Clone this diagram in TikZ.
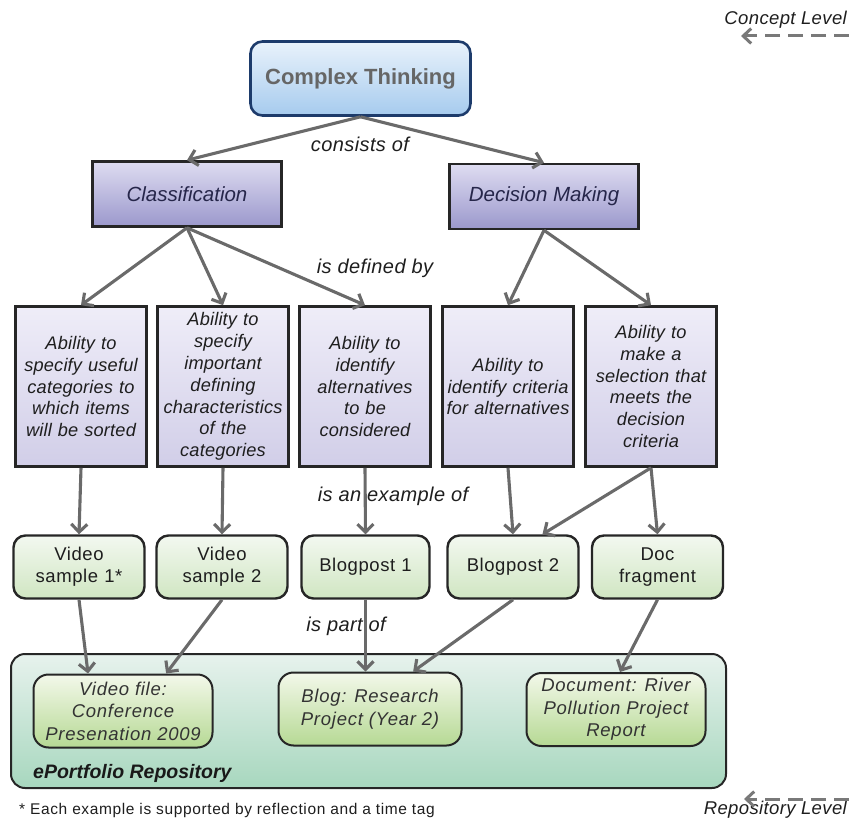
\documentclass[tikz,border=0pt]{standalone}
\usepackage{fontspec}
\setmainfont{Liberation Sans}
\newfontfamily\narrowsans[LetterSpace=1]{Liberation Sans}
\newfontfamily\tightsans[LetterSpace=2]{Liberation Sans}
\newfontfamily\midsans[LetterSpace=3]{Liberation Sans}
\newfontfamily\widesans[LetterSpace=4]{Liberation Sans}
\usetikzlibrary{arrows.meta}

\definecolor{ctborder}{HTML}{1D3B6B}
\definecolor{cttop}{HTML}{E9F2FB}
\definecolor{ctbot}{HTML}{A6CBEE}
\definecolor{ctText}{HTML}{666666}
\definecolor{skilltop}{HTML}{DEDCF1}
\definecolor{skillbot}{HTML}{9B98CC}
\definecolor{skillText}{HTML}{26264A}
\definecolor{abiltop}{HTML}{EFEDF8}
\definecolor{abilbot}{HTML}{D1CEE8}
\definecolor{extop}{HTML}{F3F8F0}
\definecolor{exbot}{HTML}{D0E6C2}
\definecolor{repotop}{HTML}{E7F2ED}
\definecolor{repobot}{HTML}{A7D7BE}
\definecolor{arttop}{HTML}{F3F8EA}
\definecolor{artbot}{HTML}{B6D994}
\definecolor{arrowgrey}{HTML}{6A6A6A}
\definecolor{txt}{HTML}{1E1E1E}

\tikzset{
  concept/.style={draw=ctborder, line width=2.6pt, rounded corners=12pt,
    top color=cttop, bottom color=ctbot, minimum width=220pt, minimum height=74pt,
    text=ctText, font=\fontsize{22}{26}\selectfont\bfseries},
  skill/.style={draw=black!85, line width=2.6pt, top color=skilltop, bottom color=skillbot,
    minimum width=189pt, minimum height=65pt, text=skillText,
    font=\fontsize{20.5}{24}\selectfont\itshape},
  ability/.style={draw=black!85, line width=2.6pt, top color=abiltop, bottom color=abilbot,
    minimum width=131pt, minimum height=160pt, text width=130pt, align=center,
    inner sep=0pt, text=txt, font=\narrowsans\fontsize{18.2}{21.8}\selectfont\itshape},
  example/.style={draw=black!85, line width=2.4pt, rounded corners=12pt,
    top color=extop, bottom color=exbot, minimum width=131pt, minimum height=63pt,
    text width=128pt, align=center, inner sep=0pt, text=txt,
    font=\midsans\fontsize{18.5}{22}\selectfont},
  repo/.style={draw=black!85, line width=2pt, rounded corners=14pt,
    top color=repotop, bottom color=repobot, minimum width=715pt, minimum height=134pt},
  artefact/.style={draw=black!85, line width=2pt, rounded corners=15pt,
    top color=arttop, bottom color=artbot, minimum height=73pt,
    align=center, inner sep=0pt, text=black!80,
    font=\widesans\fontsize{18.5}{22.5}\selectfont\itshape},
  linklabel/.style={text=txt, inner sep=0pt, font=\tightsans\fontsize{20}{22}\selectfont\itshape},
  levellabel/.style={text=txt, inner sep=0pt, font=\tightsans\fontsize{18.5}{21}\selectfont\itshape},
  flow/.style={draw=arrowgrey, line width=3.1pt,
    -{Straight Barb[length=8pt,width=16pt]}},
  levelarrow/.style={draw=arrowgrey!90, line width=3pt, dash pattern=on 15pt off 8pt,
    -{Straight Barb[length=8pt,width=15pt]}},
}

\begin{document}
\begin{tikzpicture}[x=1pt,y=-1pt]
\useasboundingbox (0,0) rectangle (849,821);

% concept level
\node[concept] (ct) at (360.5,78.5) {Complex Thinking};
\node[skill] (cls) at (187,194) {Classification};
\node[skill] (dm) at (544,196.5) {Decision Making};

% abilities
\node[ability] (a1) at (81,386.5) {Ability to\\specify useful\\categories to\\which items\\will be sorted};
\node[ability] (a2) at (223,386.5) {Ability to\\specify\\important\\defining\\characteristics\\of the\\categories};
\node[ability] (a3) at (365,386.5) {Ability to\\identify\\alternatives\\to be\\considered};
\node[ability] (a4) at (508,386.5) {Ability to\\identify criteria\\for alternatives};
\node[ability] (a5) at (651,386.5) {Ability to\\make a\\selection that\\meets the\\decision\\criteria};

% examples
\node[example] (e1) at (79,567) {Video\\sample 1*};
\node[example] (e2) at (222,567) {Video\\sample 2};
\node[example, minimum width=128pt] (e3) at (365.5,567) {Blogpost 1};
\node[example] (e4) at (513,567) {Blogpost 2};
\node[example] (e5) at (657.5,567) {Doc\\fragment};

% repository
\node[repo] (repo) at (368.5,721) {};
\node[artefact, minimum width=179pt] (v) at (123,711) {Video file:\\Conference\\Presenation 2009};
\node[artefact, minimum width=183pt] (b) at (370,709) {Blog: Research\\Project (Year 2)};
\node[artefact, minimum width=179pt] (d) at (616,709.5) {Document: River\\Pollution Project\\Report};
\node[anchor=west, inner sep=0pt, text=black!90,
  font=\fontsize{19.5}{22}\selectfont\bfseries\itshape] (repolabel) at (33,773) {ePortfolio Repository};

% relations
\draw[flow] (ct.south) -- (cls.north);
\draw[flow] (ct.south) -- (dm.north);
\draw[flow] (cls.south) -- (a1.north);
\draw[flow] (cls.south) -- (a2.north);
\draw[flow] (cls.south) -- (a3.north);
\draw[flow] (dm.south) -- (a4.north);
\draw[flow] (dm.south) -- (a5.north);
\draw[flow] (a1.south) -- (e1.north);
\draw[flow] (a2.south) -- (e2.north);
\draw[flow] (a3.south) -- (e3.north);
\draw[flow] (a4.south) -- (e4.north);
\draw[flow] (a5.south) -- (e5.north);
\draw[flow] (a5.south) -- (e4.48);
\draw[flow] (e1.south) -- (v.133);
\draw[flow] (e2.south) -- (v.41);
\draw[flow] (e3.south) -- (e3.south |- b.north);
\draw[flow] (e4.south) -- (b.41);
\draw[flow] (e5.south) -- (d.84);

% relation labels
\node[linklabel] (l1) at (360,144) {consists of};
\node[linklabel] (l2) at (375,268) {is defined by};
\node[linklabel] (l3) at (393,496) {is an example of};
\node[linklabel] (l4) at (346,626) {is part of};

% level markers
\node[levellabel, anchor=east] (cl) at (847,20) {Concept Level};
\coordinate (cl0) at (849,36);
\coordinate (cl1) at (741,36);
\draw[levelarrow] (cl0) -- (cl1);
\node[levellabel, anchor=east] (rl) at (847,810) {Repository Level};
\coordinate (rl0) at (849,799);
\coordinate (rl1) at (744,799);
\draw[levelarrow] (rl0) -- (rl1);

% footnote
\node[anchor=west, inner sep=0pt, text=txt,
  font=\widesans\fontsize{15.5}{17}\selectfont] (foot) at (19,810)
  {* Each example is supported by reflection and a time tag};
\end{tikzpicture}
\end{document}
